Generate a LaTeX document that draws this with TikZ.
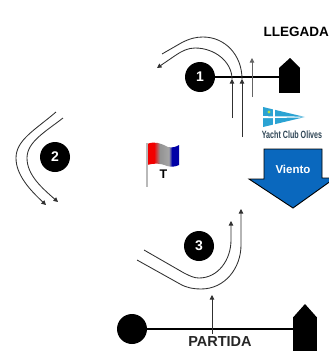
\documentclass[tikz,border=0pt]{standalone}
\usepackage{fontspec}
\setmainfont{Liberation Sans}
\usetikzlibrary{arrows.meta}
\definecolor{windblue}{HTML}{0A68BE}
\definecolor{clubblue}{HTML}{2BA3D3}
\definecolor{clubtext}{HTML}{2F4656}
\definecolor{lineink}{HTML}{303030}
\pgfdeclarehorizontalshading{flagshade}{100bp}{
  color(0bp)=(red!95!black); color(36bp)=(red!95!black); color(45bp)=(gray!85); color(59bp)=(gray!70);
  color(64bp)=(blue!65!black); color(100bp)=(blue!65!black)}
\tikzset{
  mark circle/.style={circle,fill=black,draw=none,minimum size=30pt,inner sep=0pt,text=white,font=\fontsize{14}{14}\selectfont\bfseries},
  big dot/.style={circle,fill=black,draw=none,minimum size=30pt,inner sep=0pt},
  hull/.style={rectangle,fill=black,draw=none,inner sep=0pt},
  course/.style={draw=lineink,line width=0.85pt},
  courseup/.style={course,-{Triangle[length=4.5pt,width=4.5pt]}},
  gate/.style={draw=black,line width=1.3pt},
  label/.style={inner sep=0pt,font=\fontsize{13.5}{14}\selectfont\bfseries,text=black}
}
\begin{document}
\begin{tikzpicture}[x=1pt,y=-1pt]
\useasboundingbox (0,0) rectangle (329,351);
\clip (0,0) rectangle (329,351);
\fill[white] (0,0) rectangle (329,351);

% finish line
\node[mark circle] (one) at (200,77) {1};
\node[hull,minimum width=21pt,minimum height=25pt] (finish) at (289.5,80.5) {};
\fill[black] (279,68) -- (290,58) -- (300,68) -- cycle;
\draw[gate] (one) -- (finish.west |- one);
\node[label,anchor=west] (llegada) at (263.5,32) {LLEGADA};

% course round mark 1
\coordinate (a1) at (242,137); \coordinate (a1t) at (242,79);
\coordinate (a2) at (232,118); \coordinate (a2t) at (232,79);
\coordinate (a3) at (252,97);  \coordinate (a3t) at (252,58);
\draw[courseup] (a1) -- (a1t);
\draw[courseup] (a2) -- (a2t);
\draw[courseup,draw=lineink!75] (a3) -- (a3t);
\draw[course] (162,54) -- (182,42.5) .. controls (190,38.5) and (196,37) .. (203,37) .. controls (225,37) and (242,55) .. (a1t);
\draw[courseup] (a2t) .. controls (232,62) and (215,48) .. (195,48) .. controls (188,48) and (182,51) .. (176,55) -- (157,68);

% mark 2
\node[mark circle] (two) at (55,157) {2};
\draw[courseup] (56,112) .. controls (35,130) and (16,140) .. (16,158) .. controls (16,175) and (30,190) .. (46,205);
\draw[courseup] (63,118) .. controls (45,132) and (27,142) .. (27,158) .. controls (27,175) and (42,188) .. (58,202);

% signal flag T
\shade[shading=flagshade]
  (147,144) .. controls (155,141) and (160,143) .. (168,147) .. controls (172,148) and (176,147) .. (179,145)
  -- (179,165) .. controls (175,167) and (171,167) .. (167,166) .. controls (160,163) and (154,163) .. (147,165) -- cycle;
\draw[gray!55,line width=1.6pt] (147,143) -- (147,187);
\node[inner sep=0pt,font=\fontsize{12.5}{13}\selectfont\bfseries] (flagt) at (163.5,174.5) {T};

% club logo
\fill[clubblue] (263,107) -- (305,117) -- (263,127) -- cycle;
\fill[white] (263,116.2) -- (305,116.6) -- (305,117.4) -- (263,118.2) -- cycle;
\fill[white] (272.5,107) rectangle (274.5,127);
\fill[white!30!yellow!70!green] (269,112) circle (1.6pt);
\node[inner sep=0pt,xscale=0.68,text=clubtext,font=\fontsize{10.5}{11}\selectfont\bfseries] (club) at (292,135) {Yacht Club Olives};

% wind arrow
\draw[fill=windblue,draw=black,line width=0.9pt] (264,149) -- (322,149) -- (322,178) -- (335,178) -- (293,208) -- (249,179) -- (264,179) -- cycle;
\node[inner sep=0pt,text=white,font=\fontsize{11.5}{12}\selectfont\bfseries] (viento) at (293,169) {Viento};

% mark 3
\node[mark circle] (three) at (199,246) {3};
\draw[courseup] (137,260) -- (180,284) .. controls (187,288) and (194,289) .. (201,289) .. controls (225,289) and (241,268) .. (241,245) -- (241,209);
\draw[courseup] (144,250) -- (184,273) .. controls (190,276) and (194,278) .. (199,278) .. controls (218,278) and (231,260) .. (231,240) -- (231,221);

% start line
\node[big dot] (pin) at (132,329) {};
\node[hull,minimum width=24pt,minimum height=36pt] (committee) at (305,335) {};
\fill[black] (293,317.5) -- (305,304) -- (317,317.5) -- cycle;
\draw[gate] (pin) -- (committee.west |- pin);
\coordinate (s1) at (212,334); \coordinate (s1t) at (212,295);
\draw[courseup] (s1) -- (s1t);
\node[label,font=\fontsize{14.5}{15}\selectfont\bfseries,text=black!85] (partida) at (220,342) {PARTIDA};
\end{tikzpicture}
\end{document}
